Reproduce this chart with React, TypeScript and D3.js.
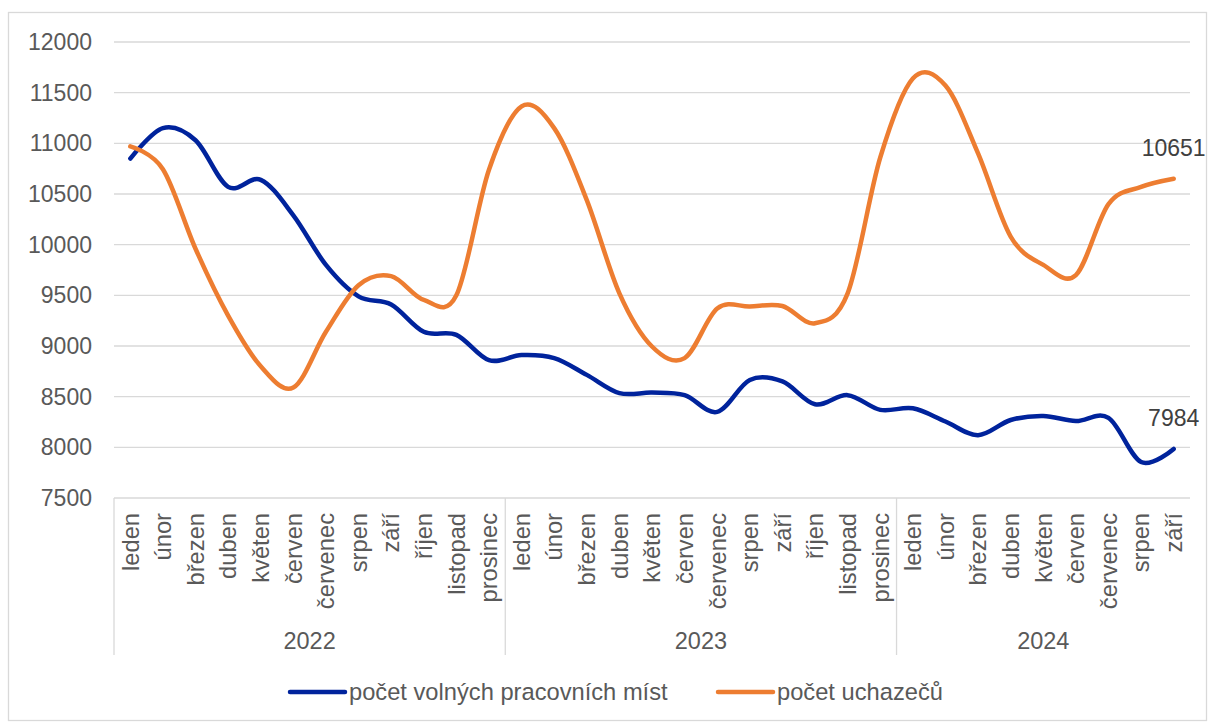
import React from 'react';
import * as d3 from 'd3';

// months per year, years, and the two series
const monthNames = ['leden', 'únor', 'březen', 'duben', 'květen', 'červen', 'červenec', 'srpen', 'září', 'říjen', 'listopad', 'prosinec'];
const years = ['2022', '2023', '2024'];
const monthsPerYear = [12, 12, 9];

const volnaMista = [
  10850, 11150, 11030, 10570, 10640, 10290, 9800, 9490, 9410, 9140, 9110, 8860,
  8910, 8880, 8715, 8535, 8540, 8515, 8350, 8665, 8650, 8425, 8515, 8370,
  8385, 8255, 8120, 8270, 8310, 8260, 8290, 7855, 7984,
];
const uchazeci = [
  10970, 10745, 9960, 9300, 8800, 8590, 9140, 9600, 9690, 9455, 9500, 10740,
  11365, 11150, 10440, 9520, 8995, 8880, 9370, 9390, 9395, 9225, 9520, 10860,
  11640, 11570, 10900, 10080, 9800, 9700, 10400, 10570, 10651,
];

const seriesNames = ['počet volných pracovních míst', 'počet uchazečů'];
const colors = ['#00239C', '#ED7D31'];

const W = 1208;
const H = 722;
const FONT = '"Liberation Sans", Arial, sans-serif';
const TEXT = '#595959';
const GRID = '#D9D9D9';

export default function App() {
  const left = 114;
  const right = 1190;
  const top = 42;
  const bottom = 498;

  // build category list: one entry per month across years
  const cats: { month: string; year: string }[] = [];
  years.forEach((yr, yi) => {
    for (let m = 0; m < monthsPerYear[yi]; m++) cats.push({ month: monthNames[m], year: yr });
  });

  const x = d3.scaleBand<number>()
    .domain(cats.map((_, i) => i))
    .range([left, right])
    .padding(0);
  const bw = x.bandwidth();
  const cx = (i: number) => (x(i) as number) + bw / 2;

  const y = d3.scaleLinear().domain([7500, 12000]).range([bottom, top]);
  const ticks = y.ticks(9);

  const line = d3.line<number>()
    .x((_, i) => cx(i))
    .y((d) => y(d))
    .curve(d3.curveCatmullRom.alpha(0));

  // year group boundaries
  const bounds: number[] = [];
  let acc = 0;
  monthsPerYear.forEach((n) => {
    bounds.push(acc);
    acc += n;
  });

  const series = [volnaMista, uchazeci];
  const last = cats.length - 1;

  return (
    <svg width={W} height={H} style={{ position: 'absolute', left: 0, top: 0 }} fontFamily={FONT}>
      <rect x={8.5} y={12.5} width={1198} height={708} fill="white" stroke={GRID} strokeWidth={1.3} />

      {/* gridlines and y labels */}
      {ticks.map((t) => (
        <g key={t}>
          <line x1={left} x2={right} y1={y(t)} y2={y(t)} stroke={GRID} strokeWidth={1.3} />
          <text x={92} y={y(t)} dy="0.35em" textAnchor="end" fontSize={23} fill={TEXT}>{t}</text>
        </g>
      ))}

      {/* category axis: separators */}
      {bounds.map((b) => (
        <line key={b} x1={x(b) as number} x2={x(b) as number} y1={bottom} y2={655} stroke={GRID} strokeWidth={1.3} />
      ))}

      {/* month labels */}
      {cats.map((c, i) => (
        <text key={i} transform={`translate(${cx(i)},513) rotate(-90)`} dy="0.35em" textAnchor="end" fontSize={23.7} fill={TEXT}>
          {c.month}
        </text>
      ))}

      {/* year labels */}
      {years.map((yr, yi) => {
        const start = x(bounds[yi]) as number;
        const end = start + monthsPerYear[yi] * bw;
        const mid = yi === years.length - 1 ? (start + right) / 2 : (start + end) / 2;
        return (
          <text key={yr} x={mid} y={649} textAnchor="middle" fontSize={23.5} fill={TEXT}>{yr}</text>
        );
      })}

      {/* lines */}
      {series.map((s, si) => (
        <path key={si} d={line(s) || ''} fill="none" stroke={colors[si]} strokeWidth={4.5} strokeLinecap="round" strokeLinejoin="round" />
      ))}

      {/* end labels */}
      {series.map((s, si) => (
        <text key={si} x={cx(last)} y={y(s[last]) - 23} textAnchor="middle" fontSize={23} fill="#404040">{s[last]}</text>
      ))}

      {/* legend */}
      {[{ x0: 290, tx: 349 }, { x0: 718, tx: 777 }].map((l, li) => (
        <g key={li}>
          <line x1={l.x0} x2={l.x0 + 55} y1={692} y2={692} stroke={colors[li]} strokeWidth={4.5} strokeLinecap="round" />
          <text x={l.tx} y={700} fontSize={23.7} fill={TEXT}>{seriesNames[li]}</text>
        </g>
      ))}
    </svg>
  );
}
